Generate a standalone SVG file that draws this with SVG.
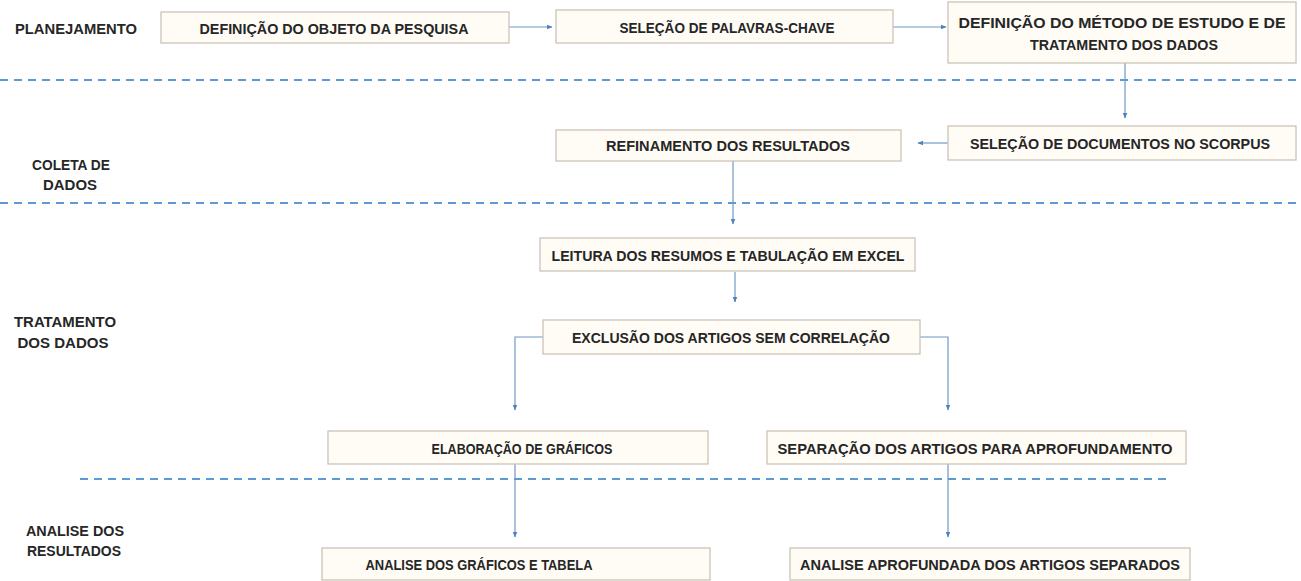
<svg xmlns="http://www.w3.org/2000/svg" width="1301" height="581" viewBox="0 0 1301 581">
<style>
.bg{fill:#ffffff}
.box{fill:#fffcf6;stroke:#cbc3b7;stroke-width:1.3}
.t{font-family:"Liberation Sans","Arial",sans-serif;font-weight:bold;font-size:15px;fill:#262626;text-anchor:middle;dominant-baseline:central}
.lbl{font-family:"Liberation Sans","Arial",sans-serif;font-weight:bold;font-size:14px;fill:#262626;dominant-baseline:central}
.mid{text-anchor:middle}
.dash{stroke:#5b9bd5;stroke-width:2;stroke-dasharray:8 6;fill:none}
.c{stroke:#6f98c6;stroke-width:1.2;fill:none;marker-end:url(#ah)}
</style>
<defs>
<marker id="ah" viewBox="0 0 10 10" refX="9" refY="5" markerWidth="6" markerHeight="6" markerUnits="userSpaceOnUse" orient="auto">
<path d="M0,1 L10,5 L0,9 z" fill="#4f81bd"/>
</marker>
</defs>
<rect class="bg" x="0" y="0" width="1301" height="581"/>
<g id="dividers">
<line class="dash" x1="0" y1="80" x2="1301" y2="80"/>
<line class="dash" x1="0" y1="203" x2="1301" y2="203"/>
<line class="dash" x1="80" y1="479" x2="1170" y2="479"/>
</g>
<g id="phase-labels">
<text class="lbl" x="15" y="29" textLength="122" lengthAdjust="spacingAndGlyphs">PLANEJAMENTO</text>
<text class="lbl mid" x="71" y="165" textLength="78" lengthAdjust="spacingAndGlyphs">COLETA DE</text>
<text class="lbl mid" x="70" y="185" textLength="54" lengthAdjust="spacingAndGlyphs">DADOS</text>
<text class="lbl mid" x="65" y="322" textLength="102" lengthAdjust="spacingAndGlyphs">TRATAMENTO</text>
<text class="lbl mid" x="63" y="343" textLength="91" lengthAdjust="spacingAndGlyphs">DOS DADOS</text>
<text class="lbl" x="26" y="531" textLength="98" lengthAdjust="spacingAndGlyphs">ANALISE DOS</text>
<text class="lbl" x="27" y="551" textLength="94" lengthAdjust="spacingAndGlyphs">RESULTADOS</text>
</g>
<g id="connectors">
<line class="c" x1="509" y1="27" x2="552" y2="27"/>
<line class="c" x1="893" y1="27" x2="946" y2="27"/>
<line class="c" x1="1125" y1="63" x2="1125" y2="118"/>
<line class="c" x1="948" y1="143" x2="918" y2="143"/>
<line class="c" x1="733" y1="161" x2="733" y2="224"/>
<line class="c" x1="735" y1="272" x2="735" y2="302"/>
<polyline class="c" points="543,337 515,337 515,410"/>
<polyline class="c" points="920,337 948,337 948,410"/>
<line class="c" x1="515" y1="464" x2="515" y2="537"/>
<line class="c" x1="948" y1="464" x2="948" y2="537"/>
</g>
<g id="n1"><rect class="box" x="161" y="12" width="348" height="31"/><text class="t" x="334" y="28" textLength="269" lengthAdjust="spacingAndGlyphs">DEFINIÇÃO DO OBJETO DA PESQUISA</text></g>
<g id="n2"><rect class="box" x="556" y="10" width="337" height="33"/><text class="t" x="727" y="27" textLength="215" lengthAdjust="spacingAndGlyphs">SELEÇÃO DE PALAVRAS-CHAVE</text></g>
<g id="n3"><rect class="box" x="948" y="2" width="348" height="61"/><text class="t" x="1122" y="22" textLength="327" lengthAdjust="spacingAndGlyphs">DEFINIÇÃO DO MÉTODO DE ESTUDO E DE</text><text class="t" x="1124" y="44" textLength="188" lengthAdjust="spacingAndGlyphs">TRATAMENTO DOS DADOS</text></g>
<g id="n4"><rect class="box" x="948" y="126" width="348" height="34"/><text class="t" x="1120" y="143" textLength="300" lengthAdjust="spacingAndGlyphs">SELEÇÃO DE DOCUMENTOS NO SCORPUS</text></g>
<g id="n5"><rect class="box" x="556" y="130" width="345" height="31"/><text class="t" x="728" y="145" textLength="244" lengthAdjust="spacingAndGlyphs">REFINAMENTO DOS RESULTADOS</text></g>
<g id="n6"><rect class="box" x="540" y="238" width="375" height="33"/><text class="t" x="728" y="255" textLength="353" lengthAdjust="spacingAndGlyphs">LEITURA DOS RESUMOS E TABULAÇÃO EM EXCEL</text></g>
<g id="n7"><rect class="box" x="543" y="320" width="377" height="34"/><text class="t" x="731" y="337" textLength="318" lengthAdjust="spacingAndGlyphs">EXCLUSÃO DOS ARTIGOS SEM CORRELAÇÃO</text></g>
<g id="n8"><rect class="box" x="328" y="431" width="380" height="33"/><text class="t" x="522" y="448" textLength="181" lengthAdjust="spacingAndGlyphs">ELABORAÇÃO DE GRÁFICOS</text></g>
<g id="n9"><rect class="box" x="767" y="431" width="419" height="33"/><text class="t" x="975" y="448" textLength="395" lengthAdjust="spacingAndGlyphs">SEPARAÇÃO DOS ARTIGOS PARA APROFUNDAMENTO</text></g>
<g id="n10"><rect class="box" x="322" y="548" width="388" height="32"/><text class="t" x="479" y="564" textLength="227" lengthAdjust="spacingAndGlyphs">ANALISE DOS GRÁFICOS E TABELA</text></g>
<g id="n11"><rect class="box" x="790" y="548" width="400" height="32"/><text class="t" x="990" y="564" textLength="380" lengthAdjust="spacingAndGlyphs">ANALISE APROFUNDADA DOS ARTIGOS SEPARADOS</text></g>
</svg>
